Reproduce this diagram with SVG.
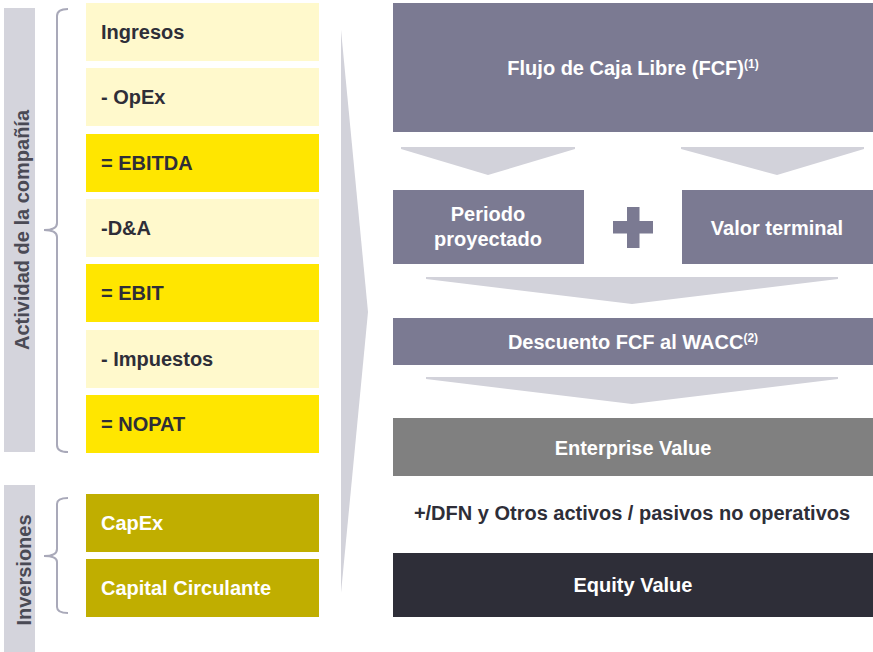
<svg xmlns="http://www.w3.org/2000/svg" width="873" height="652" viewBox="0 0 873 652">
<style>
text{font-family:"Liberation Sans",Arial,sans-serif;font-weight:bold;font-size:20px}
.dk{fill:#2e2e38}
.wt{fill:#ffffff}
.lab{fill:#4a4a55;font-size:20px}
.light{fill:#fff9cc}
.yel{fill:#ffe600}
.olv{fill:#c0ae00}
.box{fill:#7b7a92}
.chev{fill:#d2d2da}
.brk{fill:none;stroke:#a9a9b9;stroke-width:2}
.sup{font-size:12px}
</style>
<rect x="4" y="8" width="31" height="444" fill="#d4d4dc"/>
<rect x="4" y="485" width="31" height="167" fill="#d4d4dc"/>
<text class="lab" transform="translate(29,230) rotate(-90)" text-anchor="middle">Actividad de la compañía</text>
<text class="lab" transform="translate(31,570) rotate(-90)" text-anchor="middle">Inversiones</text>
<path class="brk" d="M68,9 Q57,9 57,16 V223 Q57,230 44,230 Q57,230 57,237 V445 Q57,452 68,452"/>
<path class="brk" d="M68,498 Q57,498 57,504 V549 Q57,556 44,556 Q57,556 57,562 V607 Q57,613 68,613"/>
<g id="ingresos"><rect class="light" x="86" y="3" width="233" height="58"/><text class="dk" x="101" y="39">Ingresos</text></g>
<g id="opex"><rect class="light" x="86" y="68" width="233" height="58"/><text class="dk" x="101" y="104">- OpEx</text></g>
<g id="ebitda"><rect class="yel" x="86" y="134" width="233" height="58"/><text class="dk" x="101" y="170">= EBITDA</text></g>
<g id="da"><rect class="light" x="86" y="199" width="233" height="58"/><text class="dk" x="101" y="235">-D&amp;A</text></g>
<g id="ebit"><rect class="yel" x="86" y="264" width="233" height="58"/><text class="dk" x="101" y="300">= EBIT</text></g>
<g id="impuestos"><rect class="light" x="86" y="330" width="233" height="58"/><text class="dk" x="101" y="366">- Impuestos</text></g>
<g id="nopat"><rect class="yel" x="86" y="395" width="233" height="58"/><text class="dk" x="101" y="431">= NOPAT</text></g>
<g id="capex"><rect class="olv" x="86" y="494" width="233" height="58"/><text class="wt" x="101" y="530">CapEx</text></g>
<g id="capital"><rect class="olv" x="86" y="559" width="233" height="58"/><text class="wt" x="101" y="595">Capital Circulante</text></g>
<g id="connectors">
<polygon class="chev" points="341,30 368,312 341,593"/>
<polygon class="chev" points="401,147 575,147 575,149 488,175 401,149"/>
<polygon class="chev" points="681,147 864,147 864,149 777,175 681,149"/>
<polygon class="chev" points="426,277 838,277 838,279 632,304 426,279"/>
<polygon class="chev" points="426,377 838,377 838,379 632,404 426,379"/>
</g>
<g id="fcf"><rect class="box" x="393" y="3" width="480" height="129"/><text class="wt" x="633" y="75" text-anchor="middle">Flujo de Caja Libre (FCF)<tspan class="sup" dy="-7">(1)</tspan></text></g>
<g id="periodo"><rect class="box" x="393" y="190" width="191" height="74"/><text class="wt" x="488" y="221" text-anchor="middle">Periodo</text><text class="wt" x="488" y="246" text-anchor="middle">proyectado</text></g>
<g id="plus"><rect class="box" x="627" y="207" width="12.5" height="41"/><rect class="box" x="613" y="221" width="40" height="12.5"/></g>
<g id="valor"><rect class="box" x="682" y="190" width="191" height="74"/><text class="wt" x="777" y="235" text-anchor="middle">Valor terminal</text></g>
<g id="descuento"><rect class="box" x="393" y="318" width="480" height="47"/><text class="wt" x="633" y="349" text-anchor="middle">Descuento FCF al WACC<tspan class="sup" dy="-7">(2)</tspan></text></g>
<g id="ev"><rect x="393" y="418" width="480" height="58" fill="#808080"/><text class="wt" x="633" y="455" text-anchor="middle">Enterprise Value</text></g>
<g id="dfn"><text class="dk" x="632" y="520" text-anchor="middle">+/DFN y Otros activos / pasivos no operativos</text></g>
<g id="equity"><rect x="393" y="553" width="480" height="64" fill="#2e2e38"/><text class="wt" x="633" y="592" text-anchor="middle">Equity Value</text></g>
</svg>
